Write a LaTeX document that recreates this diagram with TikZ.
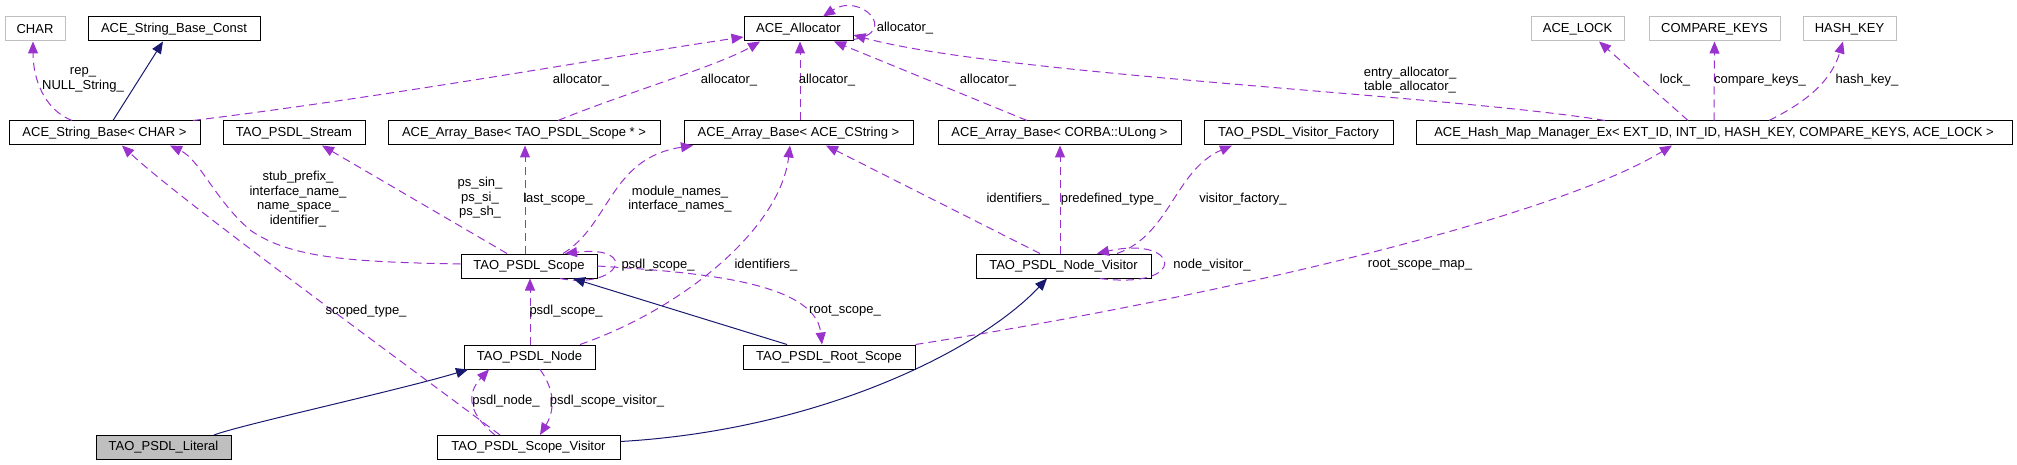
\documentclass[tikz,border=0pt]{standalone}
\usepackage{fontspec}
\setmainfont{Liberation Sans}
\usetikzlibrary{arrows.meta,calc}

\definecolor{usecol}{HTML}{9A32CD}
\definecolor{isacol}{HTML}{191970}
\definecolor{extgray}{HTML}{BFBFBF}

\tikzset{
	cls/.style={draw=black,line width=1pt,minimum height=24pt,inner sep=0pt},
	ext/.style={cls,draw=extgray},
	lbl/.style={inner sep=0pt,align=center},
	uses/.style={draw=usecol,line width=1pt,dash pattern=on 8pt off 5pt,-{Triangle[length=12pt,width=10pt]}},
	isa/.style={draw=isacol,line width=1pt,-{Triangle[length=12pt,width=10pt]}},
}

\begin{document}
\begin{tikzpicture}[x=1pt,y=-1pt,font=\fontsize{13}{14.6}\selectfont]
\useasboundingbox (0,0) rectangle (2017,465);

\pgfmathsetmacro{\rowA}{29}
\pgfmathsetmacro{\rowB}{133}
\pgfmathsetmacro{\rowC}{266}
\pgfmathsetmacro{\rowD}{357}
\pgfmathsetmacro{\rowE}{447.5}

\node[ext,minimum width=60pt] (char) at (35,\rowA) {CHAR};
\node[cls,minimum width=172pt] (strconst) at (174,\rowA) {ACE\_String\_Base\_Const};
\node[cls,minimum width=109pt] (alloc) at (798.5,\rowA) {ACE\_Allocator};
\node[ext,minimum width=93pt] (lock) at (1577.5,\rowA) {ACE\_LOCK};
\node[ext,minimum width=131pt] (cmpkeys) at (1714.5,\rowA) {COMPARE\_KEYS};
\node[ext,minimum width=93pt] (hashkey) at (1849.5,\rowA) {HASH\_KEY};

\node[cls,minimum width=191pt] (strbase) at (104.5,\rowB) {ACE\_String\_Base< CHAR >};
\node[cls,minimum width=142pt] (stream) at (294,\rowB) {TAO\_PSDL\_Stream};
\node[cls,minimum width=272pt] (arrscope) at (524,\rowB) {ACE\_Array\_Base< TAO\_PSDL\_Scope * >};
\node[cls,minimum width=229pt] (arrcstr) at (798.5,\rowB) {ACE\_Array\_Base< ACE\_CString >};
\node[cls,minimum width=243pt] (arrulong) at (1059.5,\rowB) {ACE\_Array\_Base< CORBA::ULong >};
\node[cls,minimum width=189pt] (factory) at (1298.5,\rowB) {TAO\_PSDL\_Visitor\_Factory};
\node[cls,minimum width=596pt] (hashmap) at (1714,\rowB) {ACE\_Hash\_Map\_Manager\_Ex< EXT\_ID, INT\_ID, HASH\_KEY, COMPARE\_KEYS, ACE\_LOCK >};

\node[cls,minimum width=136pt] (scope) at (529,\rowC) {TAO\_PSDL\_Scope};
\node[cls,minimum width=175pt] (nodevis) at (1063.5,\rowC) {TAO\_PSDL\_Node\_Visitor};
\node[cls,minimum width=131pt] (node) at (529.5,\rowD) {TAO\_PSDL\_Node};
\node[cls,minimum width=172pt] (rootscope) at (829,\rowD) {TAO\_PSDL\_Root\_Scope};
\node[cls,fill=extgray,minimum width=135pt] (literal) at (163.5,\rowE) {TAO\_PSDL\_Literal};
\node[cls,minimum width=183pt] (scopevis) at (528.5,\rowE) {TAO\_PSDL\_Scope\_Visitor};

\draw[uses] ($(strbase.north)+(-32.5,0)$) .. controls (45,110) and (33,80) .. ($(char.south)+(-2,0)$);
\draw[isa] ($(strbase.north)+(8.5,0)$) -- ($(strconst.south)+(-11,0)$);
\draw[uses] ($(strbase.north)+(88.5,0)$) .. controls (400,95) and (620,55) .. ($(alloc.west)+(0,8)$);
\draw[uses] ($(arrscope.north)+(34,0)$) .. controls (620,95) and (720,65) .. ($(alloc.south)+(-38.5,0)$);
\draw[uses] ($(arrcstr.north)+(1.5,0)$) -- ($(alloc.south)+(1.5,0)$);
\draw[uses] ($(arrulong.north)+(-32.5,0)$) -- ($(alloc.south)+(35.5,0)$);
\draw[uses] ($(alloc.south east)+(0,-2)$) .. controls (900,32) and (860,-8) .. ($(alloc.north)+(24.5,0)$);
\draw[uses] ($(hashmap.north)+(-109,0)$) .. controls (1450,95) and (1000,75) .. ($(alloc.east)+(0,6)$);
\draw[uses] ($(hashmap.north)+(-26,0)$) -- ($(lock.south)+(21.5,0)$);
\draw[uses] (hashmap.north) -- (cmpkeys.south);
\draw[uses] ($(hashmap.north)+(55,0)$) .. controls (1800,105) and (1830,85) .. ($(hashkey.south)+(-6.5,0)$);

\draw[uses] ($(scope.west)+(0,-2)$) .. controls (350,262) and (290,258) .. (250,230) .. controls (215,200) and (200,160) .. ($(strbase.south)+(65.5,0)$);
\draw[uses] ($(scopevis.north)+(-28.5,0)$) .. controls (400,360) and (180,200) .. ($(strbase.south)+(17.5,0)$);
\draw[uses] ($(scope.north)+(-22,0)$) -- ($(stream.south)+(28,0)$);
\draw[uses] ($(scope.north)+(-4,0)$) -- ($(arrscope.south)+(1,0)$);
\draw[uses] ($(scope.north)+(34,0)$) .. controls (610,225) and (610,158) .. ($(arrcstr.south)+(-105.5,0)$);
\draw[uses] ($(scope.south)+(31,0)$) .. controls (620,290) and (640,245) .. ($(scope.north)+(36,0)$);
\draw[uses] (scope.east) .. controls (690,272) and (815,280) .. ($(rootscope.north)+(-7,0)$);
\draw[uses] ($(node.north)+(0.5,0)$) -- ($(scope.south)+(1,0)$);
\draw[uses] ($(node.north)+(50.5,0)$) .. controls (680,310) and (780,230) .. ($(arrcstr.south)+(-8.5,0)$);
\draw[isa] ($(rootscope.north)+(-42,0)$) -- ($(scope.south)+(44,0)$);
\draw[isa] ($(literal.north)+(50.5,0)$) .. controls (240,425) and (400,390) .. ($(node.south)+(-61.5,0)$);
\draw[isa] ($(scopevis.east)+(0,-6)$) .. controls (820,430) and (980,350) .. ($(nodevis.south)+(-16.5,0)$);
\draw[uses] ($(scopevis.north)+(-33.5,0)$) .. controls (470,415) and (465,395) .. ($(node.south)+(-40.5,0)$);
\draw[uses] ($(node.south)+(10.5,0)$) .. controls (555,390) and (555,410) .. ($(scopevis.north)+(11.5,0)$);
\draw[uses] ($(nodevis.north)+(-23.5,0)$) -- ($(arrcstr.south)+(27.5,0)$);
\draw[uses] ($(nodevis.north)+(-3.5,0)$) -- ($(arrulong.south)+(0.5,0)$);
\draw[uses] ($(nodevis.north)+(53.5,0)$) .. controls (1170,235) and (1175,170) .. ($(factory.south)+(-66.5,0)$);
\draw[uses] ($(nodevis.south)+(36.5,0)$) .. controls (1190,290) and (1180,235) .. ($(nodevis.north)+(33.5,0)$);
\draw[uses] (rootscope.north east) .. controls (1200,300) and (1550,220) .. ($(hashmap.south)+(-42,0)$);

\node[lbl] (lrep) at (83,80) {rep\_\\NULL\_String\_};
\node[lbl] (lalloca) at (581,80) {allocator\_};
\node[lbl] (lallocb) at (729,80) {allocator\_};
\node[lbl] (lallocc) at (827,80) {allocator\_};
\node[lbl] (lallocd) at (988,80) {allocator\_};
\node[lbl] (lallocself) at (905,28) {allocator\_};
\node[lbl] (lentry) at (1410,80) {entry\_allocator\_\\table\_allocator\_};
\node[lbl] (llock) at (1675,80) {lock\_};
\node[lbl] (lcmp) at (1760,80) {compare\_keys\_};
\node[lbl] (lhash) at (1867,80) {hash\_key\_};
\node[lbl] (lstub) at (298,199) {stub\_prefix\_\\interface\_name\_\\name\_space\_\\identifier\_};
\node[lbl] (lps) at (480,198) {ps\_sin\_\\ps\_si\_\\ps\_sh\_};
\node[lbl] (llast) at (558,199) {last\_scope\_};
\node[lbl] (lmodule) at (680,199) {module\_names\_\\interface\_names\_};
\node[lbl] (lident) at (1018,199) {identifiers\_};
\node[lbl] (lpredef) at (1111,199) {predefined\_type\_};
\node[lbl] (lfactory) at (1243,199) {visitor\_factory\_};
\node[lbl] (lselfscope) at (658,265) {psdl\_scope\_};
\node[lbl] (lidentb) at (766,265) {identifiers\_};
\node[lbl] (lnodevis) at (1212,265) {node\_visitor\_};
\node[lbl] (lrootmap) at (1420,265) {root\_scope\_map\_};
\node[lbl] (lscoped) at (366,311) {scoped\_type\_};
\node[lbl] (lpsdlscope) at (566,311) {psdl\_scope\_};
\node[lbl] (lroot) at (845,311) {root\_scope\_};
\node[lbl] (lpsdlnode) at (506,401) {psdl\_node\_};
\node[lbl] (lvisitor) at (607,401) {psdl\_scope\_visitor\_};
\end{tikzpicture}
\end{document}
